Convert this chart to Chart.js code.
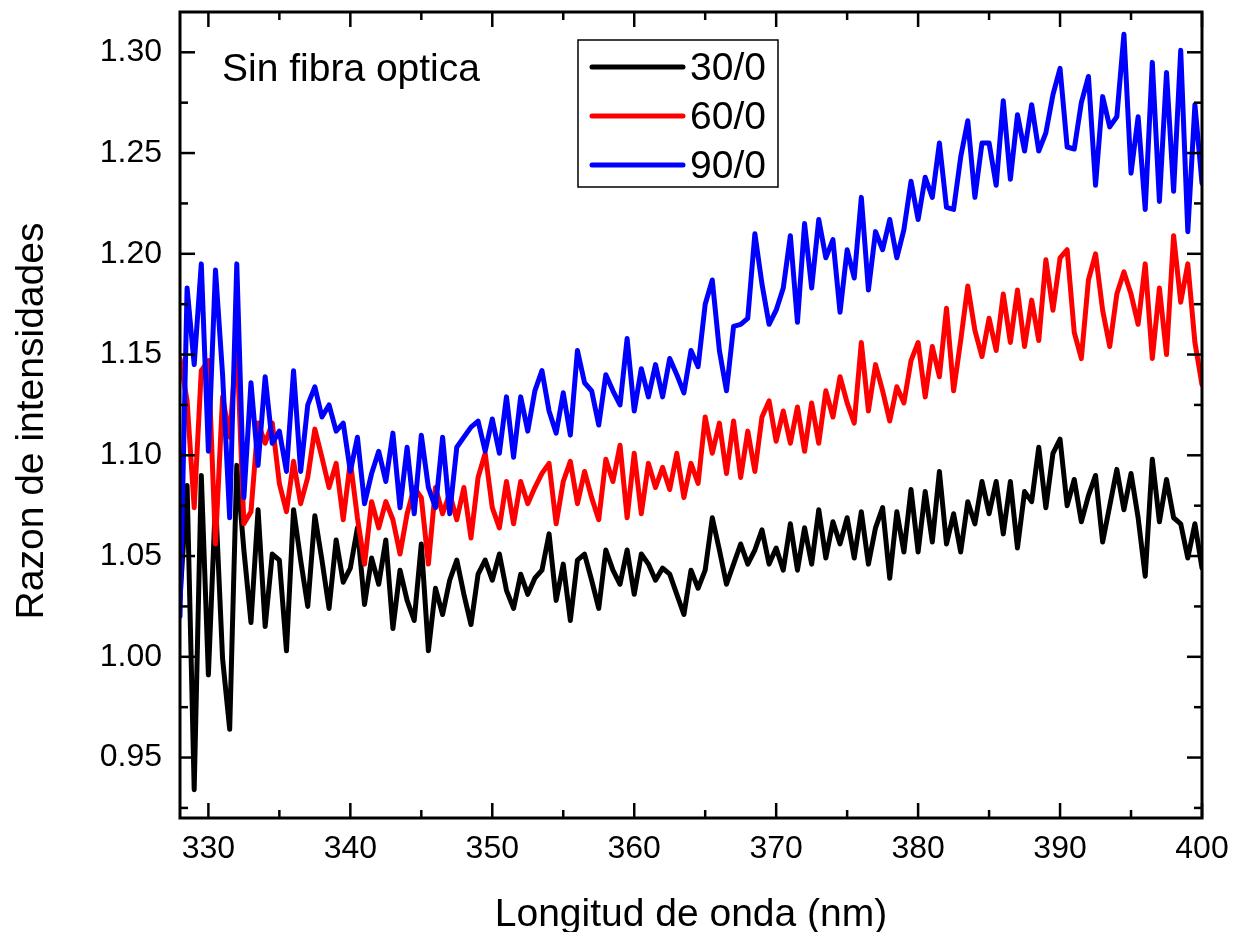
<!DOCTYPE html>
<html>
<head>
<meta charset="utf-8">
<title>Razon de intensidades</title>
<script src="https://cdn.jsdelivr.net/npm/chart.js@4.4.1/dist/chart.umd.min.js"></script>
<style>
  html, body { margin: 0; padding: 0; background: #fff; }
  #chart { display: block; }
</style>
</head>
<body>
<canvas id="chart" width="1233" height="932"></canvas>
<script>
// wavelength grid (nm), read every 0.5 nm
const wavelength = [
  328.0, 328.5, 329.0, 329.5, 330.0, 330.5, 331.0, 331.5, 332.0, 332.5,
  333.0, 333.5, 334.0, 334.5, 335.0, 335.5, 336.0, 336.5, 337.0, 337.5,
  338.0, 338.5, 339.0, 339.5, 340.0, 340.5, 341.0, 341.5, 342.0, 342.5,
  343.0, 343.5, 344.0, 344.5, 345.0, 345.5, 346.0, 346.5, 347.0, 347.5,
  348.0, 348.5, 349.0, 349.5, 350.0, 350.5, 351.0, 351.5, 352.0, 352.5,
  353.0, 353.5, 354.0, 354.5, 355.0, 355.5, 356.0, 356.5, 357.0, 357.5,
  358.0, 358.5, 359.0, 359.5, 360.0, 360.5, 361.0, 361.5, 362.0, 362.5,
  363.0, 363.5, 364.0, 364.5, 365.0, 365.5, 366.0, 366.5, 367.0, 367.5,
  368.0, 368.5, 369.0, 369.5, 370.0, 370.5, 371.0, 371.5, 372.0, 372.5,
  373.0, 373.5, 374.0, 374.5, 375.0, 375.5, 376.0, 376.5, 377.0, 377.5,
  378.0, 378.5, 379.0, 379.5, 380.0, 380.5, 381.0, 381.5, 382.0, 382.5,
  383.0, 383.5, 384.0, 384.5, 385.0, 385.5, 386.0, 386.5, 387.0, 387.5,
  388.0, 388.5, 389.0, 389.5, 390.0, 390.5, 391.0, 391.5, 392.0, 392.5,
  393.0, 393.5, 394.0, 394.5, 395.0, 395.5, 396.0, 396.5, 397.0, 397.5,
  398.0, 398.5, 399.0, 399.5, 400.0
];

// 30/0
const ratio30 = [
  1.029, 1.085, 0.934, 1.090, 0.991, 1.078, 0.999, 0.964, 1.095, 1.053,
  1.017, 1.073, 1.015, 1.051, 1.048, 1.003, 1.073, 1.048, 1.025, 1.070,
  1.048, 1.024, 1.058, 1.037, 1.044, 1.064, 1.026, 1.049, 1.036, 1.058,
  1.014, 1.043, 1.028, 1.018, 1.056, 1.003, 1.034, 1.021, 1.038, 1.048,
  1.031, 1.016, 1.041, 1.048, 1.038, 1.051, 1.033, 1.024, 1.041, 1.031,
  1.039, 1.043, 1.061, 1.028, 1.046, 1.018, 1.048, 1.051, 1.038, 1.024,
  1.053, 1.043, 1.036, 1.053, 1.031, 1.051, 1.046, 1.038, 1.044, 1.041,
  1.031, 1.021, 1.043, 1.034, 1.043, 1.069, 1.053, 1.036, 1.046, 1.056,
  1.046, 1.053, 1.063, 1.046, 1.054, 1.043, 1.066, 1.043, 1.064, 1.046,
  1.073, 1.049, 1.067, 1.056, 1.069, 1.049, 1.072, 1.046, 1.064, 1.074,
  1.039, 1.072, 1.052, 1.083, 1.052, 1.082, 1.057, 1.092, 1.056, 1.071,
  1.052, 1.077, 1.066, 1.087, 1.071, 1.087, 1.061, 1.087, 1.054, 1.082,
  1.077, 1.104, 1.074, 1.101, 1.108, 1.075, 1.088, 1.067, 1.080, 1.090,
  1.057, 1.075, 1.093, 1.073, 1.091, 1.069, 1.040, 1.098, 1.067, 1.088,
  1.069, 1.066, 1.049, 1.066, 1.044
];

// 60/0
const ratio60 = [
  1.148, 1.127, 1.074, 1.142, 1.147, 1.056, 1.129, 1.109, 1.157, 1.066,
  1.072, 1.116, 1.106, 1.116, 1.086, 1.072, 1.097, 1.076, 1.089, 1.113,
  1.099, 1.084, 1.096, 1.068, 1.097, 1.069, 1.046, 1.077, 1.064, 1.077,
  1.068, 1.051, 1.071, 1.084, 1.079, 1.046, 1.084, 1.071, 1.081, 1.068,
  1.084, 1.059, 1.089, 1.101, 1.074, 1.064, 1.087, 1.066, 1.087, 1.076,
  1.084, 1.091, 1.096, 1.066, 1.087, 1.097, 1.076, 1.092, 1.079, 1.068,
  1.098, 1.087, 1.105, 1.069, 1.101, 1.071, 1.096, 1.084, 1.094, 1.083,
  1.101, 1.079, 1.096, 1.086, 1.119, 1.101, 1.116, 1.091, 1.117, 1.089,
  1.112, 1.092, 1.119, 1.127, 1.107, 1.122, 1.106, 1.124, 1.102, 1.126,
  1.106, 1.132, 1.119, 1.139, 1.126, 1.116, 1.156, 1.122, 1.145, 1.132,
  1.117, 1.134, 1.126, 1.147, 1.156, 1.129, 1.154, 1.139, 1.173, 1.132,
  1.157, 1.184, 1.162, 1.149, 1.168, 1.152, 1.180, 1.156, 1.182, 1.154,
  1.177, 1.157, 1.197, 1.172, 1.198, 1.202, 1.161, 1.148, 1.187, 1.200,
  1.172, 1.154, 1.180, 1.191, 1.180, 1.165, 1.195, 1.148, 1.183, 1.150,
  1.209, 1.176, 1.195, 1.156, 1.135
];

// 90/0
const ratio90 = [
  1.020, 1.183, 1.145, 1.195, 1.102, 1.192, 1.140, 1.069, 1.195, 1.079,
  1.136, 1.095, 1.139, 1.106, 1.112, 1.092, 1.142, 1.092, 1.125, 1.134,
  1.119, 1.125, 1.112, 1.116, 1.092, 1.109, 1.076, 1.091, 1.102, 1.087,
  1.111, 1.074, 1.104, 1.071, 1.110, 1.084, 1.074, 1.109, 1.071, 1.104,
  1.109, 1.114, 1.117, 1.102, 1.118, 1.101, 1.129, 1.099, 1.129, 1.112,
  1.132, 1.142, 1.122, 1.111, 1.131, 1.110, 1.152, 1.136, 1.132, 1.115,
  1.140, 1.132, 1.125, 1.158, 1.122, 1.143, 1.129, 1.145, 1.129, 1.148,
  1.140, 1.131, 1.152, 1.144, 1.175, 1.187, 1.152, 1.132, 1.164, 1.165,
  1.168, 1.210, 1.185, 1.165, 1.172, 1.183, 1.209, 1.166, 1.215, 1.183,
  1.217, 1.198, 1.207, 1.171, 1.202, 1.188, 1.228, 1.182, 1.211, 1.202,
  1.217, 1.198, 1.212, 1.236, 1.217, 1.238, 1.228, 1.255, 1.223, 1.222,
  1.248, 1.266, 1.228, 1.255, 1.255, 1.234, 1.276, 1.237, 1.269, 1.251,
  1.274, 1.251, 1.260, 1.279, 1.292, 1.253, 1.252, 1.275, 1.288, 1.234,
  1.278, 1.263, 1.268, 1.309, 1.240, 1.268, 1.222, 1.295, 1.226, 1.290,
  1.231, 1.301, 1.211, 1.274, 1.235
];

const seriesNames = ["30/0", "60/0", "90/0"];
const seriesColors = ["#000000", "#ff0000", "#0000ff"];

const xTicks = [330, 340, 350, 360, 370, 380, 390, 400];
const xMinor = [335, 345, 355, 365, 375, 385, 395];
const yTicks = [0.95, 1.00, 1.05, 1.10, 1.15, 1.20, 1.25, 1.30];
const yMinor = [0.925, 0.975, 1.025, 1.075, 1.125, 1.175, 1.225, 1.275];

const FONT = "'Liberation Sans', Arial, sans-serif";

function pts(values) {
  return values.map((v, i) => ({ x: wavelength[i], y: v }));
}

const frame = {
  id: "frame",
  afterDatasetsDraw(chart) {
    const { ctx, chartArea: a, scales: { x, y } } = chart;
    ctx.save();

    // inward ticks on all four sides
    ctx.strokeStyle = "#000";
    ctx.lineWidth = 2.5;
    const tick = (x1, y1, x2, y2) => {
      ctx.beginPath(); ctx.moveTo(x1, y1); ctx.lineTo(x2, y2); ctx.stroke();
    };
    xTicks.forEach(v => {
      const p = x.getPixelForValue(v);
      tick(p, a.bottom, p, a.bottom - 15);
      tick(p, a.top, p, a.top + 15);
    });
    xMinor.forEach(v => {
      const p = x.getPixelForValue(v);
      tick(p, a.bottom, p, a.bottom - 8);
      tick(p, a.top, p, a.top + 8);
    });
    yTicks.forEach(v => {
      const p = y.getPixelForValue(v);
      tick(a.left, p, a.left + 15, p);
      tick(a.right, p, a.right - 15, p);
    });
    yMinor.forEach(v => {
      const p = y.getPixelForValue(v);
      tick(a.left, p, a.left + 8, p);
      tick(a.right, p, a.right - 8, p);
    });

    // box
    ctx.lineWidth = 3;
    ctx.strokeRect(a.left, a.top, a.right - a.left, a.bottom - a.top);

    // axis titles
    ctx.fillStyle = "#000";
    ctx.font = "39px " + FONT;
    ctx.textAlign = "center";
    ctx.textBaseline = "alphabetic";
    ctx.fillText("Longitud de onda (nm)", (a.left + a.right) / 2, 926);
    ctx.save();
    ctx.translate(43, (a.top + a.bottom) / 2 + 6);
    ctx.rotate(-Math.PI / 2);
    ctx.fillText("Razon de intensidades", 0, 0);
    ctx.restore();

    // note
    ctx.textAlign = "left";
    ctx.fillText("Sin fibra optica", 222, 81);

    // legend
    ctx.lineWidth = 1.5;
    ctx.strokeRect(578, 40, 200, 147);
    const rows = [67, 116, 165];
    seriesNames.forEach((name, i) => {
      ctx.strokeStyle = seriesColors[i];
      ctx.lineWidth = 5;
      ctx.lineCap = "round";
      tick(592, rows[i], 683, rows[i]);
      ctx.fillStyle = "#000";
      ctx.fillText(name, 690, rows[i] + 13);
    });

    ctx.restore();
  }
};

new Chart(document.getElementById("chart"), {
  type: "line",
  data: {
    datasets: [ratio30, ratio60, ratio90].map((vals, i) => ({
      label: seriesNames[i],
      data: pts(vals),
      borderColor: seriesColors[i],
      backgroundColor: seriesColors[i],
      borderWidth: 5,
      borderJoinStyle: "round",
      borderCapStyle: "round",
      pointRadius: 0,
      tension: 0,
      fill: false,
      order: 2 - i
    }))
  },
  options: {
    responsive: false,
    devicePixelRatio: 1,
    animation: false,
    layout: { padding: { top: 12, right: 31, left: 0, bottom: 0 } },
    plugins: {
      legend: { display: false },
      tooltip: { enabled: false }
    },
    scales: {
      x: {
        type: "linear",
        min: 328,
        max: 400,
        afterBuildTicks: s => { s.ticks = xTicks.map(v => ({ value: v })); },
        afterFit: s => { s.height = 114; s.paddingLeft = 0; s.paddingRight = 0; },
        grid: { display: false, drawTicks: false },
        border: { display: false },
        ticks: {
          padding: 12,
          color: "#000",
          font: { family: FONT, size: 32 },
          maxRotation: 0,
          callback: v => String(v)
        }
      },
      y: {
        type: "linear",
        min: 0.92,
        max: 1.32,
        afterBuildTicks: s => { s.ticks = yTicks.map(v => ({ value: v })); },
        afterFit: s => { s.width = 180; s.paddingTop = 0; s.paddingBottom = 0; },
        grid: { display: false, drawTicks: false },
        border: { display: false },
        ticks: {
          padding: 18,
          color: "#000",
          font: { family: FONT, size: 32 },
          callback: v => v.toFixed(2)
        }
      }
    }
  },
  plugins: [frame]
});
</script>
</body>
</html>
